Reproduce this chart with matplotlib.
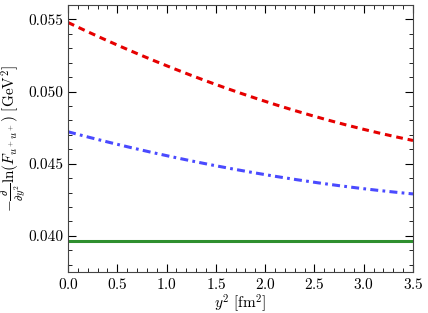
import numpy as np
from matplotlib import pyplot as plt
from matplotlib.ticker import MultipleLocator

plt.rcParams['font.family'] = 'serif'
plt.rcParams['font.serif'] = ['cmr10']
plt.rcParams['mathtext.fontset'] = 'cm'
plt.rcParams['axes.formatter.use_mathtext'] = True

y2 = [0.0, 0.5, 1.0, 1.5, 2.0, 2.5, 3.0, 3.5]
red_vals = [0.0548, 0.0532, 0.0518, 0.0505, 0.0493, 0.0483, 0.0474, 0.0466]
blue_vals = [0.04723, 0.04631, 0.04555, 0.04495, 0.04417, 0.04371, 0.04330, 0.04290]
green_val = 0.03965

# smooth the read-off points with a quadratic fit
xs = np.linspace(0, 3.5, 200)
red_fit = np.polyval(np.polyfit(y2, red_vals, 2), xs)
blue_fit = np.polyval(np.polyfit(y2, blue_vals, 2), xs)

fig = plt.figure(figsize=(4.28, 3.13), dpi=100)
ax = fig.add_axes([0.159, 0.131, 0.806, 0.853])

ax.plot(xs, red_fit, color='#e60000', ls=(0, (2.2, 1.6)), lw=2.2)
ax.plot(xs, blue_fit, color='#4a4aff', ls=(0, (2.6, 1.4, 0.9, 1.4)), lw=2.2)
ax.plot(xs, np.full_like(xs, green_val), color='#2f8f2f', lw=2.2)

ax.set_xlim(0, 3.5)
ax.set_ylim(0.0375, 0.0560)
ax.xaxis.set_major_locator(MultipleLocator(0.5))
ax.xaxis.set_minor_locator(MultipleLocator(0.1))
ax.yaxis.set_major_locator(MultipleLocator(0.005))
ax.yaxis.set_minor_locator(MultipleLocator(0.001))
ax.yaxis.set_major_formatter(plt.FormatStrFormatter('%.3f'))
ax.tick_params(which='both', direction='in', top=True, right=True, labelsize=11)
ax.tick_params(which='major', length=6)
ax.tick_params(which='minor', length=3)
for s in ax.spines.values():
    s.set_color('#444444')

ax.set_xlabel(r'$y^2\ [\mathrm{fm}^2]$', fontsize=11, labelpad=0)
ax.set_ylabel(r'$-\frac{\partial}{\partial y^2}\mathrm{ln}(F_{u^+u^+})\ [\mathrm{GeV}^2]$',
              fontsize=11, labelpad=0)

fig.savefig('out.png', dpi=100)
